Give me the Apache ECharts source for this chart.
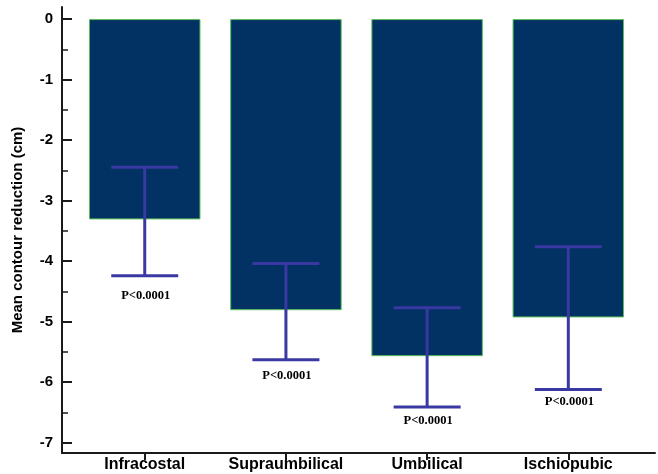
<!DOCTYPE html>
<html>
<head>
<meta charset="utf-8">
<script src="https://cdn.jsdelivr.net/npm/echarts@6/dist/echarts.min.js"></script>
<style>
  html, body { margin: 0; padding: 0; background: #fff; }
  #chart { width: 658px; height: 474px; }
</style>
</head>
<body>
<div id="chart"></div>
<script>
// Body sites and mean contour change (cm), with the error-bar ends
const categories = ['Infracostal', 'Supraumbilical', 'Umbilical', 'Ischiopubic'];
const meanReduction = [-3.31, -4.81, -5.57, -4.93];
const errorUpper = [-2.45, -4.04, -4.77, -3.76];
const errorLower = [-4.24, -5.63, -6.41, -6.12];
const pLabels = ['P<0.0001', 'P<0.0001', 'P<0.0001', 'P<0.0001'];
const yMajorTicks = [0, -1, -2, -3, -4, -5, -6, -7];
const yMinorTicks = [-0.5, -1.5, -2.5, -3.5, -4.5, -5.5, -6.5];

// vertical distance (px) from the lower cap to each significance label
const labelGap = [20, 16, 14, 12];

const positions = categories.map((_, i) => i + 1);
const barData = meanReduction.map((v, i) => [positions[i], v]);
const errData = meanReduction.map((v, i) => [positions[i], errorLower[i], errorUpper[i], i]);

const chart = echarts.init(document.getElementById('chart'));
const axisBlack = '#1a1a1a';

chart.setOption({
  animation: false,
  backgroundColor: '#ffffff',
  grid: { left: 62, right: 3, top: 7, bottom: 21, containLabel: false, outerBoundsMode: 'none' },
  xAxis: {
    type: 'value',
    min: 0.414,
    max: 4.614,
    splitLine: { show: false },
    axisLine: { show: true, onZero: false, lineStyle: { color: axisBlack, width: 2 } },
    axisTick: { show: true, customValues: positions, length: 7, lineStyle: { color: axisBlack, width: 2 } },
    axisLabel: {
      customValues: positions,
      margin: 4,
      color: '#000',
      fontFamily: 'Liberation Sans, Arial, sans-serif',
      fontWeight: 'bold',
      fontSize: 16,
      formatter: v => categories[Math.round(v) - 1] || ''
    }
  },
  yAxis: [{
    type: 'value',
    min: -7.17,
    max: 0.2,
    name: 'Mean contour reduction (cm)',
    nameLocation: 'middle',
    nameGap: 37,
    nameTextStyle: { color: '#000', fontFamily: 'Liberation Sans, Arial, sans-serif', fontWeight: 'bold', fontSize: 15 },
    splitLine: { show: false },
    axisLine: { show: true, onZero: false, lineStyle: { color: axisBlack, width: 2 } },
    axisTick: { show: true, inside: true, customValues: yMajorTicks, length: 10, lineStyle: { color: axisBlack, width: 2 } },
    axisLabel: {
      customValues: yMajorTicks,
      margin: 9,
      color: '#000',
      fontFamily: 'Liberation Sans, Arial, sans-serif',
      fontWeight: 'bold',
      fontSize: 15,
      formatter: v => String(v)
    }
  }, {
    type: 'value',
    position: 'left',
    min: -7.17,
    max: 0.2,
    splitLine: { show: false },
    axisLine: { show: false },
    axisLabel: { show: false },
    axisTick: { show: true, inside: true, customValues: yMinorTicks, length: 6, lineStyle: { color: axisBlack, width: 1.5 } }
  }],
  series: [{
    type: 'bar',
    data: barData,
    barWidth: 111.5,
    itemStyle: { color: '#023163', borderColor: '#5cbf5c', borderWidth: 1 },
    z: 2
  }, {
    type: 'custom',
    data: errData,
    z: 5,
    renderItem: function (params, api) {
      const x = api.value(0);
      const lo = api.coord([x, api.value(1)]);
      const hi = api.coord([x, api.value(2)]);
      const idx = api.value(3);
      const half = 33.5;
      const style = { stroke: '#3a38a2', lineWidth: 3, fill: null };
      return {
        type: 'group',
        children: [
          { type: 'line', shape: { x1: hi[0], y1: hi[1], x2: lo[0], y2: lo[1] }, style },
          { type: 'line', shape: { x1: hi[0] - half, y1: hi[1], x2: hi[0] + half, y2: hi[1] }, style },
          { type: 'line', shape: { x1: lo[0] - half, y1: lo[1], x2: lo[0] + half, y2: lo[1] }, style },
          {
            type: 'text',
            style: {
              text: pLabels[idx],
              x: lo[0] + 1,
              y: lo[1] + labelGap[idx],
              align: 'center',
              verticalAlign: 'middle',
              fill: '#000',
              font: 'bold 12.5px "Liberation Serif", "Times New Roman", serif'
            }
          }
        ]
      };
    }
  }]
});
</script>
</body>
</html>
